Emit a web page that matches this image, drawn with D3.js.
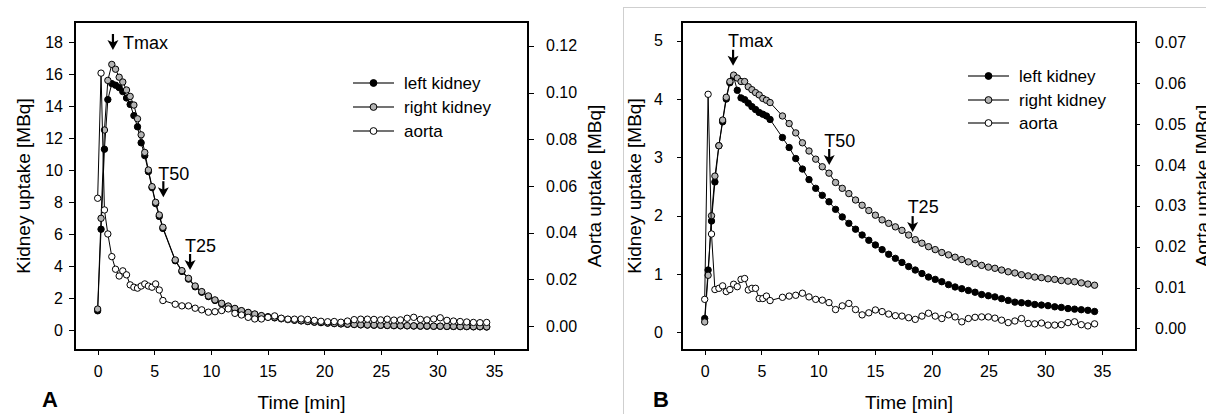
<!DOCTYPE html>
<html>
<head>
<meta charset="utf-8">
<title>Kidney uptake</title>
<script src="https://d3js.org/d3.v7.min.js"></script>
<style>
body{margin:0;background:#fff;}
svg{display:block;font-family:Arial,"Liberation Sans",sans-serif;}
.tick text{font-size:16px;fill:#000;}
.tick line{stroke:#000;}
</style>
</head>
<body>
<svg id="chart" width="1206" height="414"></svg>
<script>
// frame times [min], shared by all curves
var time = [0, 0.3, 0.6, 0.9, 1.25, 1.58, 1.9, 2.22, 2.55, 2.87, 3.2, 3.52, 3.84, 4.16, 4.48, 4.8, 5.12, 5.44, 5.76,
  6.85, 7.44, 8.02, 8.61, 9.19, 9.78, 10.36, 10.95, 11.53, 12.12, 12.70, 13.29, 13.87, 14.46, 15.04, 15.63, 16.21, 16.80,
  17.38, 17.97, 18.55, 19.14, 19.72, 20.31, 20.89, 21.48, 22.06, 22.65, 23.23, 23.82, 24.40, 24.99, 25.57, 26.16, 26.74,
  27.33, 27.91, 28.50, 29.08, 29.67, 30.25, 30.84, 31.42, 32.01, 32.59, 33.18, 33.76, 34.35];

// panel A
var aLeftKidney = [1.2, 6.3, 11.3, 14.4, 15.4, 15.3, 15.15, 14.9, 14.5, 14.1, 13.4, 12.7, 11.7, 10.9, 9.9, 8.9, 7.9, 7.1, 6.35,
  4.33, 3.66, 3.18, 2.7, 2.36, 2.09, 1.85, 1.64, 1.47, 1.32, 1.19, 1.08, 0.98, 0.88, 0.81, 0.76, 0.7, 0.65, 0.61, 0.57,
  0.53, 0.49, 0.46, 0.43, 0.4, 0.38, 0.36, 0.34, 0.32, 0.31, 0.3, 0.29, 0.28, 0.27, 0.26, 0.26, 0.25, 0.24, 0.24, 0.23,
  0.23, 0.22, 0.22, 0.21, 0.21, 0.2, 0.2, 0.19];
var aRightKidney = [1.31, 6.98, 12.5, 15.6, 16.6, 16.3, 15.8, 15.5, 15.0, 14.6, 14.06, 13.2, 12.2, 11.1, 10.0, 8.96, 7.98, 7.19, 6.42,
  4.38, 3.71, 3.23, 2.75, 2.4, 2.13, 1.88, 1.67, 1.5, 1.35, 1.21, 1.1, 1.0, 0.9, 0.83, 0.78, 0.72, 0.66, 0.62, 0.58,
  0.54, 0.5, 0.47, 0.44, 0.41, 0.39, 0.37, 0.35, 0.33, 0.32, 0.31, 0.3, 0.29, 0.28, 0.27, 0.27, 0.26, 0.25, 0.25, 0.24,
  0.24, 0.23, 0.23, 0.22, 0.22, 0.21, 0.21, 0.2];
var aAorta = [0.0547, 0.1083, 0.0497, 0.0394, 0.0297, 0.0243, 0.0214, 0.0236, 0.0219, 0.0176, 0.0166, 0.0162, 0.0171, 0.018, 0.0171, 0.0166, 0.018, 0.0154, 0.0109,
  0.0093, 0.0086, 0.0086, 0.0076, 0.0069, 0.0059, 0.0061, 0.0066, 0.0073, 0.0054, 0.0047, 0.0037, 0.003, 0.003, 0.0037, 0.0043, 0.0033, 0.0029, 0.0029,
  0.0030, 0.0028, 0.0024, 0.0020, 0.0018, 0.0019, 0.0016, 0.0021, 0.0027, 0.0029, 0.0029, 0.0028, 0.0026, 0.0029, 0.0025,
  0.0026, 0.0033, 0.0037, 0.0028, 0.0026, 0.0030, 0.0035, 0.0024, 0.0021, 0.0019, 0.0017, 0.0015, 0.0014, 0.0015];

// panel B
var bLeftKidney = [0.24, 1.07, 1.91, 2.58, 3.2, 3.61, 4.0, 4.28, 4.38, 4.15, 4.02, 3.99, 3.93, 3.87, 3.82, 3.77, 3.74, 3.71, 3.65,
  3.34, 3.17, 2.98, 2.80, 2.62, 2.47, 2.35, 2.24, 2.11, 1.98, 1.87, 1.77, 1.67, 1.58, 1.50, 1.42, 1.34, 1.27, 1.20, 1.13,
  1.07, 1.01, 0.95, 0.91, 0.87, 0.82, 0.78, 0.75, 0.72, 0.69, 0.65, 0.63, 0.61, 0.58, 0.55, 0.52, 0.51, 0.50, 0.48, 0.47,
  0.46, 0.44, 0.43, 0.41, 0.40, 0.39, 0.38, 0.36];
var bRightKidney = [0.18, 0.98, 2.0, 2.68, 3.2, 3.64, 4.03, 4.3, 4.41, 4.36, 4.3, 4.3, 4.21, 4.16, 4.11, 4.07, 4.01, 3.98, 3.94,
  3.71, 3.58, 3.42, 3.25, 3.11, 2.97, 2.84, 2.73, 2.57, 2.47, 2.38, 2.27, 2.18, 2.09, 2.01, 1.93, 1.87, 1.81, 1.75,
  1.67, 1.59, 1.53, 1.47, 1.42, 1.37, 1.33, 1.29, 1.25, 1.21, 1.18, 1.15, 1.12, 1.10, 1.07, 1.04, 1.02, 0.99, 0.97,
  0.95, 0.94, 0.92, 0.91, 0.89, 0.88, 0.87, 0.85, 0.83, 0.81];
var bAorta = [0.0071, 0.0573, 0.0231, 0.0095, 0.0098, 0.0104, 0.009, 0.0095, 0.0108, 0.0102, 0.012, 0.0122, 0.0094, 0.0098, 0.0098, 0.0073, 0.0073, 0.0079, 0.0068,
  0.0076, 0.0079, 0.0081, 0.0086, 0.0077, 0.0071, 0.0069, 0.0063, 0.0046, 0.0055, 0.0061, 0.0046, 0.0033, 0.0038, 0.0045, 0.0041, 0.0035, 0.0031,
  0.0030, 0.0026, 0.0022, 0.0030, 0.0037, 0.0030, 0.0024, 0.0033, 0.0028, 0.0016, 0.0024, 0.0027, 0.0028, 0.0028, 0.0025,
  0.0020, 0.0014, 0.0018, 0.0024, 0.0012, 0.0011, 0.0013, 0.0008, 0.0008, 0.0009, 0.0014, 0.0016, 0.0009, 0.0006, 0.0011];

var seriesNames = ["left kidney", "right kidney", "aorta"];
var timeTicks = [0, 5, 10, 15, 20, 25, 30, 35];
var aKidneyTicks = [0, 2, 4, 6, 8, 10, 12, 14, 16, 18];
var aAortaTicks = [0, 0.02, 0.04, 0.06, 0.08, 0.10, 0.12];
var bKidneyTicks = [0, 1, 2, 3, 4, 5];
var bAortaTicks = [0, 0.01, 0.02, 0.03, 0.04, 0.05, 0.06, 0.07];

var fills = ["#000", "#b4b4b4", "#fff"];

var panels = [
  {letter: "A", x0: 75, x1: 528, y0: 22, y1: 350,
   kDom: [-1.25, 19.25], aDom: [-0.0103, 0.1302],
   kTicks: aKidneyTicks, aTicks: aAortaTicks, kFmt: "d",
   left: aLeftKidney, right: aRightKidney, aorta: aAorta,
   lTick: [6, 6], rTick: [6, 12],
   kTitleX: 29.5, aTitleX: 601, letterX: 42,
   legX: 353, legY: [83, 107, 131],
   notes: [{txt: "Tmax", t: 1.35, k: 17.5, dx: 10, dy: -1},
           {txt: "T50", t: 5.8, k: 8.3, dx: -5, dy: -17},
           {txt: "T25", t: 8.16, k: 3.75, dx: -5, dy: -18}]},
  {letter: "B", x0: 682, x1: 1136, y0: 22, y1: 350,
   kDom: [-0.3, 5.32], aDom: [-0.0053, 0.075],
   kTicks: bKidneyTicks, aTicks: bAortaTicks, kFmt: "d",
   left: bLeftKidney, right: bRightKidney, aorta: bAorta,
   lTick: [5, 14], rTick: [4, 15],
   kTitleX: 641, aTitleX: 1209, letterX: 653,
   legX: 968, legY: [76, 100, 123],
   notes: [{txt: "Tmax", t: 2.5, k: 4.57, dx: -5, dy: -19},
           {txt: "T50", t: 10.97, k: 2.87, dx: -5, dy: -18},
           {txt: "T25", t: 18.32, k: 1.72, dx: -5, dy: -19}]}
];

var svg = d3.select("#chart");
svg.append("rect").attr("width", 1206).attr("height", 414).attr("fill", "#fff");

// light border round panel B
svg.append("rect").attr("x", 623.5).attr("y", 7.5).attr("width", 700).attr("height", 500)
  .attr("fill", "none").attr("stroke", "#cfcfcf").attr("stroke-width", 1);

panels.forEach(function(p) {
  var x = d3.scaleLinear().domain([-2, 38]).range([p.x0, p.x1]);
  var yK = d3.scaleLinear().domain(p.kDom).range([p.y1, p.y0]);
  var yA = d3.scaleLinear().domain(p.aDom).range([p.y1, p.y0]);

  var g = svg.append("g");

  // axes
  var ax = g.append("g").attr("transform", "translate(0," + p.y1 + ")")
    .call(d3.axisBottom(x).tickValues(timeTicks).tickSize(5).tickPadding(11).tickSizeOuter(0));
  var ay = g.append("g").attr("transform", "translate(" + p.x0 + ",0)")
    .call(d3.axisLeft(yK).tickValues(p.kTicks).tickFormat(d3.format(p.kFmt)).tickSize(p.lTick[0]).tickPadding(p.lTick[1]).tickSizeOuter(0));
  var ar = g.append("g").attr("transform", "translate(" + p.x1 + ",0)")
    .call(d3.axisRight(yA).tickValues(p.aTicks).tickFormat(d3.format(".2f")).tickSize(p.rTick[0]).tickPadding(p.rTick[1]).tickSizeOuter(0));
  [ax, ay, ar].forEach(function(a) {
    a.select(".domain").remove();
    a.attr("font-family", null).attr("font-size", null);
    a.selectAll("line").attr("shape-rendering", "crispEdges");
  });

  g.append("rect")
    .attr("x", p.x0).attr("y", p.y0)
    .attr("width", p.x1 - p.x0).attr("height", p.y1 - p.y0)
    .attr("fill", "none").attr("stroke", "#000").attr("stroke-width", 1.2)
    .attr("shape-rendering", "crispEdges");

  // curves: left kidney, right kidney, aorta (aorta on right axis)
  var sets = [
    {vals: p.left, y: yK},
    {vals: p.right, y: yK},
    {vals: p.aorta, y: yA}
  ];
  sets.forEach(function(s, i) {
    var pts = time.map(function(t, j) { return [t, s.vals[j]]; });
    var line = d3.line().x(function(d) { return x(d[0]); }).y(function(d) { return s.y(d[1]); });
    g.append("path").attr("d", line(pts))
      .attr("fill", "none").attr("stroke", "#000").attr("stroke-width", 1);
    g.selectAll(null).data(pts).enter().append("circle")
      .attr("cx", function(d) { return x(d[0]); })
      .attr("cy", function(d) { return s.y(d[1]); })
      .attr("r", 3.2)
      .attr("fill", fills[i]).attr("stroke", "#000").attr("stroke-width", 1);
  });

  // legend
  seriesNames.forEach(function(name, i) {
    var ly = p.legY[i];
    g.append("line").attr("x1", p.legX).attr("x2", p.legX + 41).attr("y1", ly).attr("y2", ly)
      .attr("stroke", "#444").attr("stroke-width", 1.3);
    g.append("circle").attr("cx", p.legX + 20.5).attr("cy", ly).attr("r", 3.4)
      .attr("fill", fills[i]).attr("stroke", "#000").attr("stroke-width", 1);
    g.append("text").attr("x", p.legX + 51).attr("y", ly + 6)
      .attr("font-size", 17).text(name);
  });

  // Tmax / T50 / T25 arrows
  p.notes.forEach(function(n) {
    var ax0 = x(n.t), tip = yK(n.k);
    g.append("line").attr("x1", ax0).attr("x2", ax0).attr("y1", tip - 16).attr("y2", tip - 7)
      .attr("stroke", "#000").attr("stroke-width", 2.2);
    g.append("path")
      .attr("d", "M" + (ax0 - 5.5) + "," + (tip - 10) + "L" + ax0 + "," + (tip - 7.5) + "L" + (ax0 + 5.5) + "," + (tip - 10) + "L" + ax0 + "," + tip + "Z")
      .attr("fill", "#000");
    g.append("text").attr("x", ax0 + n.dx).attr("y", tip + n.dy)
      .attr("font-size", 18).text(n.txt);
  });

  // titles
  g.append("text").attr("transform", "translate(" + p.kTitleX + "," + ((p.y0 + p.y1) / 2) + ") rotate(-90)")
    .attr("text-anchor", "middle").attr("font-size", 19).text("Kidney uptake [MBq]");
  g.append("text").attr("transform", "translate(" + p.aTitleX + "," + ((p.y0 + p.y1) / 2) + ") rotate(-90)")
    .attr("text-anchor", "middle").attr("font-size", 19).text("Aorta uptake [MBq]");
  g.append("text").attr("x", (p.x0 + p.x1) / 2).attr("y", 409)
    .attr("text-anchor", "middle").attr("font-size", 19).text("Time [min]");
  g.append("text").attr("x", p.letterX).attr("y", 407)
    .attr("font-size", 22).attr("font-weight", "bold").text(p.letter);
});
</script>
</body>
</html>
